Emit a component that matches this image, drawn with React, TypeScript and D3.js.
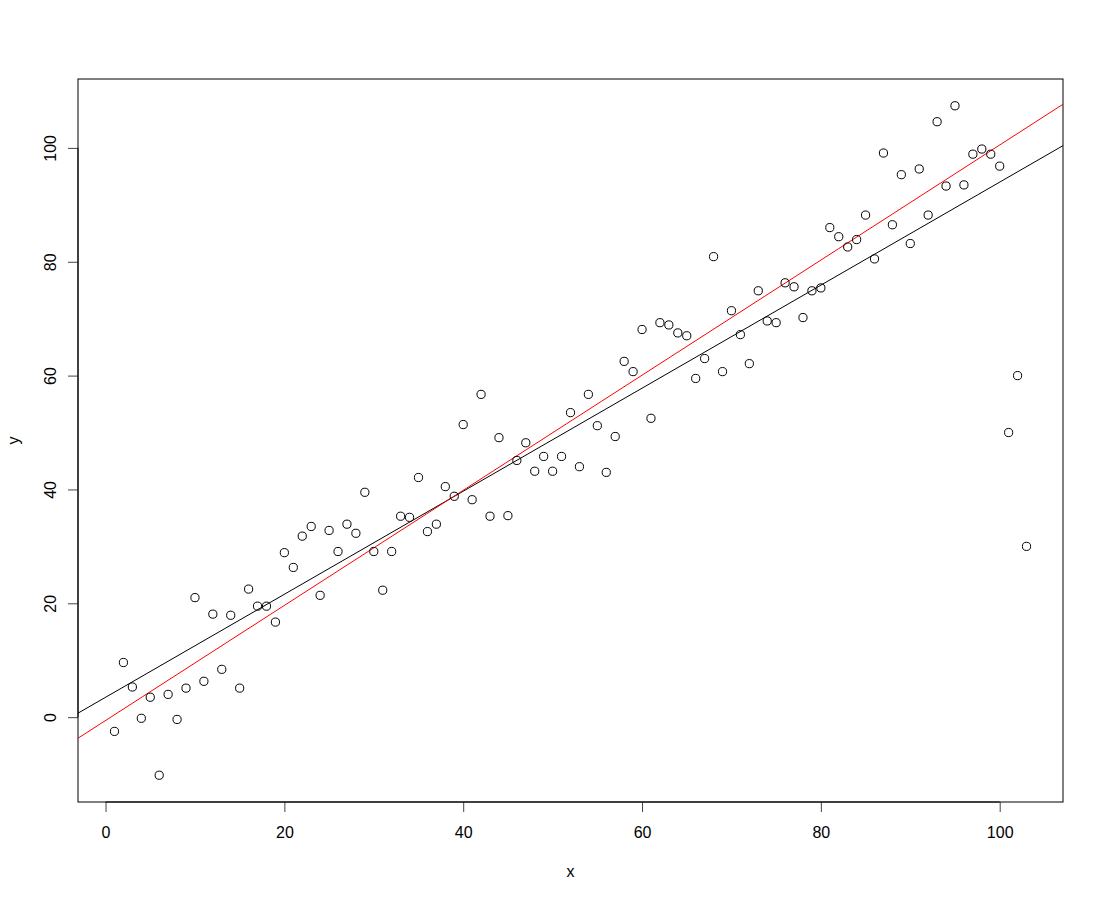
// @ts-nocheck
import React, { useEffect, useRef } from 'react'
import * as d3 from 'd3'

// x values 1..103, y
const xs = [
    1, 2, 3, 4, 5, 6, 7, 8, 9, 10, 11, 12, 13, 14, 15, 16, 17, 18, 19, 20,
    21, 22, 23, 24, 25, 26, 27, 28, 29, 30, 31, 32, 33, 34, 35, 36, 37, 38, 39, 40,
    41, 42, 43, 44, 45, 46, 47, 48, 49, 50, 51, 52, 53, 54, 55, 56, 57, 58, 59, 60,
    61, 62, 63, 64, 65, 66, 67, 68, 69, 70, 71, 72, 73, 74, 75, 76, 77, 78, 79, 80,
    81, 82, 83, 84, 85, 86, 87, 88, 89, 90, 91, 92, 93, 94, 95, 96, 97, 98, 99, 100,
    101, 102, 103
]
const ys = [
    -2.5, 9.6, 5.3, -0.2, 3.5, -10.2, 4.0, -0.4, 5.1, 21.0,
    6.3, 18.1, 8.4, 17.9, 5.1, 22.5, 19.5, 19.5, 16.7, 28.9,
    26.3, 31.8, 33.5, 21.4, 32.8, 29.1, 33.9, 32.3, 39.5, 29.1,
    22.3, 29.1, 35.3, 35.1, 42.1, 32.6, 33.9, 40.5, 38.8, 51.4,
    38.2, 56.7, 35.3, 49.1, 35.4, 45.1, 48.2, 43.2, 45.8, 43.2,
    45.8, 53.5, 44.0, 56.7, 51.2, 43.0, 49.3, 62.5, 60.7, 68.1,
    52.5, 69.3, 68.9, 67.5, 67.0, 59.5, 63.0, 80.9, 60.7, 71.4,
    67.2, 62.1, 74.9, 69.6, 69.3, 76.3, 75.6, 70.2, 74.9, 75.4,
    86.0, 84.4, 82.6, 83.9, 88.2, 80.5, 99.1, 86.5, 95.3, 83.2,
    96.3, 88.2, 104.6, 93.3, 107.4, 93.5, 98.9, 99.8, 98.9, 96.8,
    50, 60, 30
]

// [intercept, slope] of the two fitted lines
const fitAll = [3.49, 0.905]
const fitClean = [-0.59, 1.011]

const xTicks = [0, 20, 40, 60, 80, 100]
const yTicks = [0, 20, 40, 60, 80, 100]

const App = () => {
    const ref = useRef(null)

    useEffect(() => {
        const left = 78, right = 1063, top = 79, bottom = 802
        const font = 'Liberation Sans, Arial, Helvetica, sans-serif'
        const fs = 16

        const svg = d3.select(ref.current)
        svg.selectAll('*').remove()

        // R style 4% padding
        const xr = d3.extent(xs), yr = d3.extent(ys)
        const xp = (xr[1] - xr[0]) * 0.04, yp = (yr[1] - yr[0]) * 0.04
        const x = d3.scaleLinear([xr[0] - xp, xr[1] + xp], [left, right])
        const y = d3.scaleLinear([yr[0] - yp, yr[1] + yp], [bottom, top])

        // x axis
        const gx = svg.append('g')
            .attr('transform', `translate(0, ${bottom})`)
            .call(d3.axisBottom(x).tickValues(xTicks).tickSize(10).tickSizeOuter(0))
        gx.select('.domain').attr('d', `M${x(0)},0H${x(100)}`)
        gx.selectAll('.tick line').attr('stroke', '#444')
        gx.selectAll('text')
            .attr('font-size', fs).attr('font-family', font).attr('fill', '#000')
            .attr('y', 30).attr('dy', null)
            .attr('dominant-baseline', 'central')

        // y axis, labels rotated like R
        const gy = svg.append('g')
            .attr('transform', `translate(${left}, 0)`)
            .call(d3.axisLeft(y).tickValues(yTicks).tickSize(10).tickSizeOuter(0))
        gy.select('.domain').attr('d', `M0,${y(0)}V${y(100)}`)
        gy.selectAll('.tick line').attr('stroke', '#444')
        gy.selectAll('text')
            .attr('font-size', fs).attr('font-family', font).attr('fill', '#000')
            .attr('x', null).attr('dy', null)
            .attr('transform', 'translate(-28,0) rotate(-90)')
            .attr('text-anchor', 'middle')
            .attr('dominant-baseline', 'central')

        // plot box
        svg.append('rect')
            .attr('x', left).attr('y', top)
            .attr('width', right - left).attr('height', bottom - top)
            .attr('fill', 'none').attr('stroke', '#000')

        // axis titles
        svg.append('text')
            .attr('x', (left + right) / 2).attr('y', 871)
            .attr('text-anchor', 'middle').attr('dominant-baseline', 'central')
            .attr('font-size', fs).attr('font-family', font)
            .text('x')
        svg.append('text')
            .attr('transform', `translate(13, ${(top + bottom) / 2}) rotate(-90)`)
            .attr('text-anchor', 'middle').attr('dominant-baseline', 'central')
            .attr('font-size', fs).attr('font-family', font)
            .text('y')

        // clip for regression lines
        svg.append('clipPath').attr('id', 'plotclip')
            .append('rect')
            .attr('x', left).attr('y', top)
            .attr('width', right - left).attr('height', bottom - top)

        const lines = svg.append('g').attr('clip-path', 'url(#plotclip)')
        const [x0, x1] = x.domain()
        const line = d3.line().x(d => x(d[0])).y(d => y(d[1]))
        const fitPts = (f) => [[x0, f[0] + f[1] * x0], [x1, f[0] + f[1] * x1]]

        // points
        svg.append('g')
            .selectAll('circle')
            .data(xs.map((v, i) => [v, ys[i]]))
            .join('circle')
            .attr('cx', d => x(d[0]))
            .attr('cy', d => y(d[1]))
            .attr('r', 4.1)
            .attr('fill', 'none')
            .attr('stroke', '#000')
            .attr('stroke-width', 1)

        lines.append('path')
            .attr('fill', 'none').attr('stroke', '#000').attr('stroke-width', 1)
            .attr('d', line(fitPts(fitAll)))
        lines.append('path')
            .attr('fill', 'none').attr('stroke', '#ff0000').attr('stroke-width', 1)
            .attr('d', line(fitPts(fitClean)))
    }, [])

    return <svg ref={ref} width='1104' height='900'
        style={{ position: 'absolute', left: 0, top: 0, background: '#fff' }}></svg>
}

export default App
